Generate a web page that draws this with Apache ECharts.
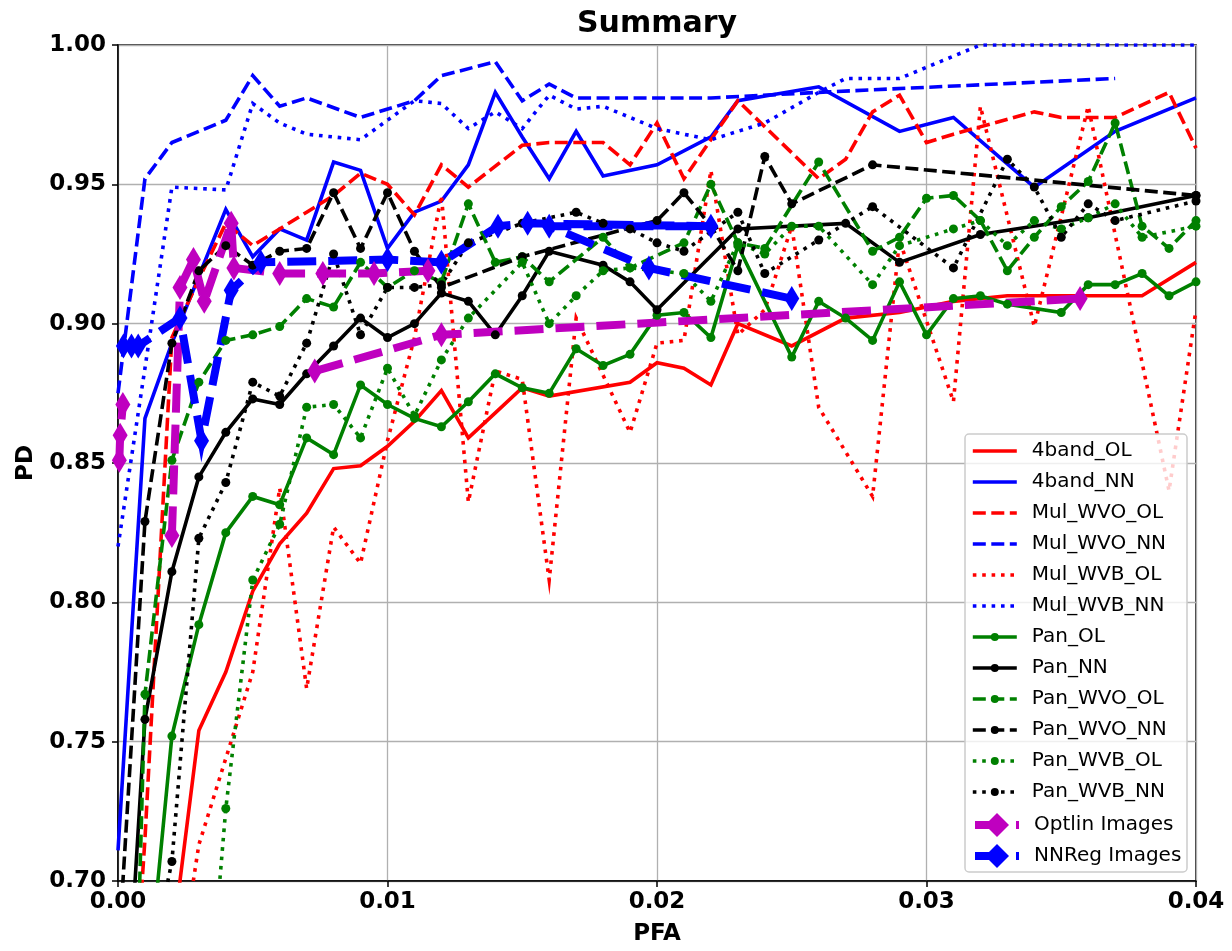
<!DOCTYPE html>
<html>
<head>
<meta charset="utf-8">
<script src="https://cdn.jsdelivr.net/npm/echarts@6/dist/echarts.min.js"></script>
<style>html,body{margin:0;padding:0;background:#fff}#c{width:1232px;height:951px}</style>
</head>
<body>
<div id="c"></div>
<script>
// ---- data: [PFA, PD] pairs ----
const band4_OL = [[0.002,0.677],[0.003,0.754],[0.004,0.775],[0.005,0.804],[0.006,0.821],[0.007,0.832],[0.008,0.848],[0.009,0.849],[0.010,0.856],[0.011,0.865],[0.012,0.876],[0.013,0.859],[0.014,0.868],[0.015,0.877],[0.016,0.874],[0.019,0.879],[0.020,0.886],[0.021,0.884],[0.022,0.878],[0.023,0.900],[0.025,0.892],[0.027,0.902],[0.029,0.904],[0.031,0.908],[0.033,0.910],[0.038,0.910],[0.040,0.922]];
const band4_NN = [[0.000,0.711],[0.001,0.866],[0.002,0.893],[0.003,0.917],[0.004,0.941],[0.005,0.924],[0.006,0.934],[0.007,0.930],[0.008,0.958],[0.009,0.955],[0.010,0.927],[0.011,0.940],[0.012,0.944],[0.013,0.957],[0.014,0.983],[0.015,0.967],[0.016,0.952],[0.017,0.969],[0.018,0.953],[0.020,0.957],[0.022,0.967],[0.023,0.980],[0.026,0.985],[0.029,0.969],[0.031,0.974],[0.034,0.949],[0.037,0.969],[0.040,0.981]];
const mulWVO_OL = [[0.000,0.570],[0.001,0.715],[0.002,0.895],[0.003,0.916],[0.004,0.936],[0.005,0.928],[0.006,0.934],[0.007,0.940],[0.008,0.946],[0.009,0.954],[0.010,0.950],[0.011,0.939],[0.012,0.957],[0.013,0.949],[0.015,0.964],[0.016,0.965],[0.018,0.965],[0.019,0.957],[0.020,0.972],[0.021,0.952],[0.023,0.980],[0.026,0.952],[0.027,0.959],[0.028,0.976],[0.029,0.982],[0.030,0.965],[0.031,0.968],[0.034,0.976],[0.035,0.974],[0.037,0.974],[0.039,0.983],[0.040,0.963]];
const mulWVO_NN = [[0.000,0.875],[0.001,0.952],[0.002,0.965],[0.004,0.973],[0.005,0.989],[0.006,0.978],[0.007,0.981],[0.009,0.974],[0.011,0.980],[0.012,0.989],[0.014,0.994],[0.015,0.980],[0.016,0.986],[0.017,0.981],[0.022,0.981],[0.026,0.983],[0.037,0.988]];
const mulWVB_OL = [[0.002,0.650],[0.003,0.713],[0.004,0.744],[0.005,0.775],[0.006,0.841],[0.007,0.769],[0.008,0.827],[0.009,0.814],[0.010,0.858],[0.011,0.895],[0.012,0.946],[0.013,0.836],[0.014,0.883],[0.015,0.880],[0.016,0.808],[0.017,0.902],[0.019,0.861],[0.020,0.893],[0.021,0.894],[0.022,0.955],[0.023,0.896],[0.024,0.905],[0.025,0.935],[0.026,0.870],[0.028,0.838],[0.029,0.930],[0.031,0.872],[0.032,0.978],[0.034,0.899],[0.036,0.978],[0.039,0.840],[0.040,0.905]];
const mulWVB_NN = [[0.000,0.820],[0.001,0.884],[0.002,0.949],[0.004,0.948],[0.005,0.979],[0.006,0.972],[0.007,0.968],[0.009,0.966],[0.010,0.973],[0.011,0.980],[0.012,0.979],[0.013,0.970],[0.014,0.976],[0.015,0.970],[0.016,0.982],[0.017,0.977],[0.018,0.978],[0.020,0.970],[0.022,0.966],[0.024,0.972],[0.026,0.983],[0.027,0.988],[0.029,0.988],[0.032,1.000],[0.040,1.000]];
const pan_OL = [[0.000,0.550],[0.001,0.652],[0.002,0.752],[0.003,0.792],[0.004,0.825],[0.005,0.838],[0.006,0.835],[0.007,0.859],[0.008,0.853],[0.009,0.878],[0.010,0.871],[0.011,0.866],[0.012,0.863],[0.013,0.872],[0.014,0.882],[0.015,0.877],[0.016,0.875],[0.017,0.891],[0.018,0.885],[0.019,0.889],[0.020,0.903],[0.021,0.904],[0.022,0.895],[0.023,0.928],[0.025,0.888],[0.026,0.908],[0.027,0.902],[0.028,0.894],[0.029,0.915],[0.030,0.896],[0.031,0.909],[0.032,0.910],[0.033,0.907],[0.035,0.904],[0.036,0.914],[0.037,0.914],[0.038,0.918],[0.039,0.910],[0.040,0.915]];
const pan_NN = [[0.000,0.600],[0.001,0.758],[0.002,0.811],[0.003,0.845],[0.004,0.861],[0.005,0.873],[0.006,0.871],[0.007,0.882],[0.008,0.892],[0.009,0.902],[0.010,0.895],[0.011,0.900],[0.012,0.911],[0.013,0.908],[0.014,0.896],[0.015,0.910],[0.016,0.926],[0.018,0.921],[0.019,0.915],[0.020,0.905],[0.023,0.934],[0.027,0.936],[0.029,0.922],[0.032,0.932],[0.036,0.938],[0.040,0.946]];
const panWVO_OL = [[0.000,0.420],[0.001,0.767],[0.002,0.851],[0.003,0.879],[0.004,0.894],[0.005,0.896],[0.006,0.899],[0.007,0.909],[0.008,0.906],[0.009,0.922],[0.010,0.913],[0.011,0.919],[0.012,0.915],[0.013,0.943],[0.014,0.922],[0.015,0.924],[0.016,0.915],[0.018,0.931],[0.019,0.920],[0.021,0.929],[0.022,0.950],[0.023,0.929],[0.024,0.927],[0.026,0.958],[0.028,0.926],[0.029,0.931],[0.030,0.945],[0.031,0.946],[0.032,0.937],[0.033,0.919],[0.034,0.931],[0.035,0.942],[0.036,0.951],[0.037,0.972],[0.038,0.935],[0.039,0.927],[0.040,0.937]];
const panWVO_NN = [[0.000,0.671],[0.001,0.829],[0.002,0.893],[0.003,0.919],[0.004,0.928],[0.005,0.921],[0.006,0.926],[0.007,0.927],[0.008,0.947],[0.009,0.927],[0.010,0.947],[0.011,0.926],[0.012,0.913],[0.015,0.924],[0.020,0.937],[0.021,0.947],[0.022,0.935],[0.023,0.919],[0.024,0.960],[0.025,0.943],[0.028,0.957],[0.040,0.946]];
const panWVB_OL = [[0.003,0.610],[0.004,0.726],[0.005,0.808],[0.006,0.828],[0.007,0.870],[0.008,0.871],[0.009,0.859],[0.010,0.884],[0.011,0.867],[0.012,0.887],[0.013,0.902],[0.015,0.922],[0.016,0.900],[0.017,0.910],[0.018,0.919],[0.019,0.920],[0.021,0.918],[0.022,0.908],[0.023,0.929],[0.024,0.925],[0.025,0.935],[0.026,0.935],[0.028,0.914],[0.029,0.928],[0.031,0.934],[0.032,0.937],[0.033,0.928],[0.034,0.937],[0.035,0.934],[0.036,0.938],[0.037,0.943],[0.038,0.931],[0.040,0.935]];
const panWVB_NN = [[0.001,0.660],[0.002,0.707],[0.003,0.823],[0.004,0.843],[0.005,0.879],[0.006,0.874],[0.007,0.893],[0.008,0.925],[0.009,0.896],[0.010,0.913],[0.011,0.913],[0.012,0.914],[0.013,0.929],[0.015,0.936],[0.017,0.940],[0.018,0.936],[0.019,0.934],[0.020,0.929],[0.021,0.926],[0.023,0.940],[0.024,0.918],[0.026,0.930],[0.028,0.942],[0.031,0.920],[0.033,0.959],[0.034,0.949],[0.035,0.931],[0.036,0.943],[0.037,0.937],[0.040,0.944]];
const GAP = ['-','-'];
const optlinImages = [[0.00005,0.851],[0.00008,0.860],[0.00018,0.871],GAP,[0.0020,0.824],[0.0023,0.913],[0.0028,0.923],[0.0032,0.908],[0.0042,0.936],[0.0043,0.920],[0.0060,0.918],[0.0076,0.918],[0.0095,0.918],[0.0115,0.919],GAP,[0.0073,0.883],[0.0120,0.896],[0.0357,0.909]];
const nnregImages = [[0.0002,0.892],[0.0005,0.892],[0.00075,0.892],[0.0023,0.902],[0.0031,0.858],[0.0042,0.912],[0.0053,0.922],[0.0100,0.923],[0.0120,0.922],[0.0141,0.935],[0.0152,0.936],[0.0220,0.935],[0.0160,0.935],[0.0197,0.920],[0.0250,0.909]];
const xTicks = {min:0, max:0.04, interval:0.01};
const yTicks = {min:0.70, max:1.00, interval:0.05};

const FONT = 'DejaVu Sans';
const RED='#ff0000', BLUE='#0000ff', GREEN='#008000', BLACK='#000000', MAG='#bf00bf';
const SOLID='solid', DASH=[13,5.5], DOT=[3.6,5.8], THICK=[29,12];

function ser(name, data, color, dash, opts) {
  opts = opts || {};
  return {
    name, type:'line', data, clip:true, connectNulls:false,
    showAllSymbol:true, animation:false, silent:true,
    symbol: opts.symbol || 'none',
    symbolSize: opts.symbolSize || 9,
    itemStyle:{color, borderWidth:0},
    lineStyle:{color, width: opts.width || 3.6, type: dash, cap:'butt', join:'miter'},
    emphasis:{disabled:true}
  };
}

const series = [
  ser('4band_OL', band4_OL, RED, SOLID),
  ser('4band_NN', band4_NN, BLUE, SOLID),
  ser('Mul_WVO_OL', mulWVO_OL, RED, DASH),
  ser('Mul_WVO_NN', mulWVO_NN, BLUE, DASH),
  ser('Mul_WVB_OL', mulWVB_OL, RED, DOT),
  ser('Mul_WVB_NN', mulWVB_NN, BLUE, DOT),
  ser('Pan_OL', pan_OL, GREEN, SOLID, {symbol:'circle'}),
  ser('Pan_NN', pan_NN, BLACK, SOLID, {symbol:'circle'}),
  ser('Pan_WVO_OL', panWVO_OL, GREEN, DASH, {symbol:'circle'}),
  ser('Pan_WVO_NN', panWVO_NN, BLACK, DASH, {symbol:'circle'}),
  ser('Pan_WVB_OL', panWVB_OL, GREEN, DOT, {symbol:'circle'}),
  ser('Pan_WVB_NN', panWVB_NN, BLACK, DOT, {symbol:'circle'}),
  ser('Optlin Images', optlinImages, MAG, THICK, {symbol:'diamond', symbolSize:[15,25], width:8}),
  ser('NNReg Images', nnregImages, BLUE, THICK, {symbol:'diamond', symbolSize:[15,25], width:8})
];

const legend1 = series.slice(0,12).map(s => s.symbol === 'none'
  ? {name:s.name, itemStyle:{color:'rgba(0,0,0,0)', opacity:0}}
  : {name:s.name});
const legend2 = series.slice(12).map(s => ({name:s.name}));
const legendText = {fontFamily:FONT, fontSize:20, color:'#000', lineHeight:22, padding:[0,0,0,10]};

const chart = echarts.init(document.getElementById('c'), null, {renderer:'canvas'});
chart.setOption({
  animation:false,
  backgroundColor:'#fff',
  textStyle:{fontFamily:FONT},
  grid:{left:118, right:36, top:45, bottom:67, show:true, borderColor:'#000', borderWidth:1.5, backgroundColor:'transparent'},
  xAxis:{
    type:'value', min:xTicks.min, max:xTicks.max, interval:xTicks.interval,
    name:'PFA', nameLocation:'middle', nameGap:42,
    nameTextStyle:{fontFamily:FONT, fontSize:23, fontWeight:'bold', color:'#000'},
    axisLine:{show:true, onZero:false, lineStyle:{color:'#000', width:1.5}},
    axisTick:{show:true, inside:false, length:6, lineStyle:{color:'#000', width:1.5}},
    axisLabel:{fontFamily:FONT, fontSize:23, fontWeight:'bold', color:'#000', margin:10, formatter:v=>v.toFixed(2)},
    splitLine:{show:true, lineStyle:{color:'#b0b0b0', width:1.3}}
  },
  yAxis:{
    type:'value', min:yTicks.min, max:yTicks.max, interval:yTicks.interval,
    name:'PD', nameLocation:'middle', nameGap:80, nameRotate:90,
    nameTextStyle:{fontFamily:FONT, fontSize:23, fontWeight:'bold', color:'#000'},
    axisLine:{show:true, onZero:false, lineStyle:{color:'#000', width:1.5}},
    axisTick:{show:true, inside:false, length:6, lineStyle:{color:'#000', width:1.5}},
    axisLabel:{fontFamily:FONT, fontSize:23, fontWeight:'bold', color:'#000', margin:12, formatter:v=>v.toFixed(2)},
    splitLine:{show:true, lineStyle:{color:'#b0b0b0', width:1.3}}
  },
  legend:[
    {data:legend1, orient:'vertical', left:971, top:440, padding:0, itemWidth:44, itemHeight:10, itemGap:9,
     lineStyle:{width:'inherit'}, textStyle:legendText, selectedMode:false, z:10},
    {data:legend2, orient:'vertical', left:971, top:813, padding:0, itemWidth:44, itemHeight:30, itemGap:7,
     lineStyle:{width:'inherit'}, textStyle:legendText, selectedMode:false, z:10}
  ],
  graphic:[
    {type:'rect', z:5, shape:{x:965, y:434, width:222, height:438, r:4},
     style:{fill:'rgba(255,255,255,0.8)', stroke:'#cccccc', lineWidth:1.5}},
    {type:'text', z:10, x:657, y:24, style:{text:'Summary', fontFamily:FONT, fontSize:30, fontWeight:'bold', fill:'#000', textAlign:'center', textVerticalAlign:'middle'}}
  ],
  series
});
</script>
</body>
</html>
